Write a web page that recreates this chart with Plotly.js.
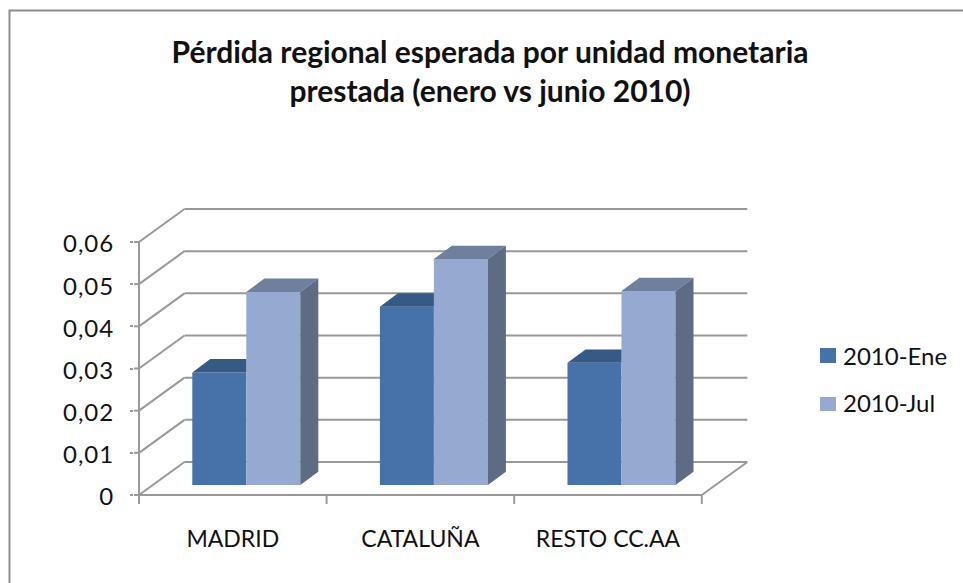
<!DOCTYPE html>
<html>
<head>
<meta charset="utf-8">
<script src="https://cdn.plot.ly/plotly-3.0.1.min.js"></script>
<style>html,body{margin:0;padding:0;background:#fff}#chart{width:963px;height:583px}.ytick text{letter-spacing:1px}</style>
</head>
<body>
<div id="chart"></div>
<script>
// Data
const categories = ['MADRID', 'CATALUÑA', 'RESTO CC.AA'];
const seriesNames = ['2010-Ene', '2010-Jul'];
const ene = [0.0267, 0.0423, 0.0290];
const jul = [0.0458, 0.0536, 0.0460];
const yTicks = [0, 0.01, 0.02, 0.03, 0.04, 0.05, 0.06];
const yTickLabels = ['0', '0,01', '0,02', '0,03', '0,04', '0,05', '0,06'];
const titleText = 'Pérdida regional esperada por unidad monetaria<br>prestada (enero vs junio 2010)';

// Styling
const FONT = 'Lato, "Open Sans", sans-serif';
const C = {
  eneFront: '#4672A9', eneTop: '#345A85',
  julFront: '#96AAD1', julTop: '#6F809E', julSide: '#5D6B85',
  line: '#999999', frame: '#8E8E8E', text: '#111111'
};

// Plot box in page pixels and the scale of the oblique projection
const box = {l: 134, r: 750, t: 205, b: 505};
const pxPerCat = 187.6, pxPerVal = 4216.7;
const axisPx = {x: 139, y: 495};           // where category 0.5 / value 0 lie
const xMin = 0.5 - (axisPx.x - box.l) / pxPerCat;
const xMax = 0.5 + (box.r - axisPx.x) / pxPerCat;
const yMin = -(box.b - axisPx.y) / pxPerVal;
const yMax = (axisPx.y - box.t) / pxPerVal;

// Depths in axis units
const wallDx = 45.5 / pxPerCat, wallDy = 33 / pxPerVal;
const barShiftX = 13.5 / pxPerCat, barBase = 10 / pxPerVal;
const barDx = 18 / pxPerCat, barDy = 13.3 / pxPerVal;
const barW = 54 / pxPerCat;

const catX = categories.map((_, i) => i + 1);
const barX = catX.map(c => c + barShiftX);

function facesTrace(color, build, name) {
  const xs = [], ys = [];
  barX.forEach((cx, i) => {
    build(cx, i).forEach(p => { xs.push(p[0]); ys.push(p[1]); });
    xs.push(null); ys.push(null);
  });
  return {type: 'scatter', mode: 'lines', x: xs, y: ys, fill: 'toself', fillcolor: color,
          line: {width: 0, color: color}, hoverinfo: 'skip', showlegend: false, name: name};
}

const traces = [
  {type: 'bar', name: seriesNames[0], x: barX, y: ene, base: barBase, width: barW, offset: -barW,
   marker: {color: C.eneFront, line: {width: 0}}, showlegend: false},
  {type: 'bar', name: seriesNames[1], x: barX, y: jul, base: barBase, width: barW, offset: 0,
   marker: {color: C.julFront, line: {width: 0}}, showlegend: false},
  // Top of the Ene bars: its far right part is hidden behind the taller Jul bar
  facesTrace(C.eneTop, (cx, i) => {
    const t = barBase + ene[i], xl = cx - barW;
    return [[xl, t], [cx, t], [cx, t + barDy], [xl + barDx, t + barDy], [xl, t]];
  }, seriesNames[0] + ' top'),
  facesTrace(C.julTop, (cx, i) => {
    const t = barBase + jul[i], xr = cx + barW;
    return [[cx, t], [xr, t], [xr + barDx, t + barDy], [cx + barDx, t + barDy], [cx, t]];
  }, seriesNames[1] + ' top'),
  facesTrace(C.julSide, (cx, i) => {
    const t = barBase + jul[i], xr = cx + barW;
    return [[xr, barBase], [xr + barDx, barBase + barDy], [xr + barDx, t + barDy], [xr, t], [xr, barBase]];
  }, seriesNames[1] + ' side')
];

// Walls, floor, axis lines
const shapes = [];
const seg = (x0, y0, x1, y1, w) => shapes.push({type: 'line', layer: 'below', xref: 'x', yref: 'y',
  x0, y0, x1, y1, line: {color: C.line, width: w || 2}});
const x0 = 0.5, x1 = categories.length + 0.5;
yTicks.forEach(v => {
  seg(x0 + wallDx, v + wallDy, x1 + wallDx, v + wallDy);  // back wall
  seg(x0, v, x0 + wallDx, v + wallDy);                    // side wall
  seg(xMin, v, x0, v);                                    // stub joining the native tick
});
seg(x0, 0, x0, yTicks[yTicks.length - 1]);                // value axis
seg(x0, 0, x1, 0);                                        // front floor edge
seg(x1, 0, x1 + wallDx, wallDy);                          // right floor edge
const catEdges = [0.5, 1.5, 2.5, 3.5];
const tickLen = 9 / pxPerVal;
catEdges.forEach(e => seg(e, -tickLen, e, 0));            // category ticks

// Page-pixel helpers for frame and legend
const px = x => (x - box.l) / (box.r - box.l);
const py = y => (box.b - y) / (box.b - box.t);
shapes.push({type: 'path', xref: 'paper', yref: 'paper',
  path: `M ${px(9.5)} ${py(583)} L ${px(9.5)} ${py(10.5)} L ${px(963)} ${py(10.5)}`,
  line: {color: C.frame, width: 2}});

const legendRows = [
  {name: seriesNames[0], color: C.eneFront, top: 348, bottom: 363, mid: 355},
  {name: seriesNames[1], color: C.julFront, top: 397, bottom: 411, mid: 402.5}
];
const annotations = [];
legendRows.forEach(r => {
  shapes.push({type: 'rect', xref: 'paper', yref: 'paper', x0: px(820), x1: px(836),
    y0: py(r.bottom), y1: py(r.top), fillcolor: r.color, line: {width: 0}});
  annotations.push({xref: 'paper', yref: 'paper', x: px(842), y: py(r.mid), xanchor: 'left', yanchor: 'middle',
    text: r.name, showarrow: false, borderpad: 0, font: {family: FONT, size: 24, color: C.text}});
});

const layout = {
  width: 963, height: 583, autosize: false,
  paper_bgcolor: '#fff', plot_bgcolor: 'rgba(0,0,0,0)',
  margin: {l: box.l, r: 963 - box.r, t: box.t, b: 583 - box.b, pad: 0},
  barmode: 'overlay', showlegend: false, hovermode: false,
  title: {text: titleText, xref: 'container', yref: 'container', x: 490 / 963, xanchor: 'center',
    y: 1 - 63 / 583, yanchor: 'middle', font: {family: FONT, size: 30, color: C.text, weight: 700}},
  xaxis: {
    range: [xMin, xMax], tickmode: 'array', tickvals: catX, ticktext: categories,
    ticks: '', ticklabelstandoff: 18, showgrid: false, zeroline: false, showline: false, fixedrange: true,
    tickfont: {family: FONT, size: 23, color: C.text}
  },
  yaxis: {
    range: [yMin, yMax], tickmode: 'array', tickvals: yTicks, ticktext: yTickLabels,
    ticks: 'outside', ticklen: 3, tickwidth: 2, tickcolor: C.line, ticklabelstandoff: 11, ticklabelshift: 2,
    showgrid: false, zeroline: false, showline: false, fixedrange: true,
    tickfont: {family: FONT, size: 24, color: C.text}
  },
  shapes, annotations
};
Plotly.newPlot('chart', traces, layout, {displayModeBar: false, staticPlot: true});
</script>
</body>
</html>
